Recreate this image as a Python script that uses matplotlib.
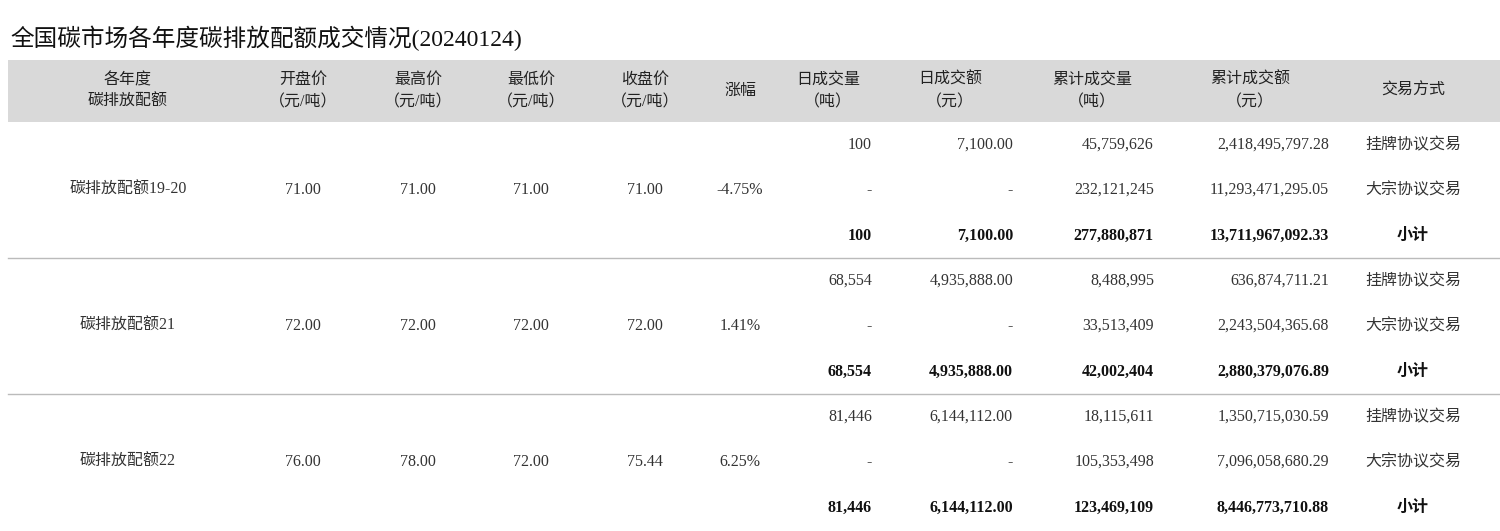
import matplotlib
matplotlib.use("Agg")
import matplotlib.pyplot as plt
from matplotlib.patches import Rectangle

title = "全国碳市场各年度碳排放配额成交情况(20240124)"
headers = ["各年度\n碳排放配额", "开盘价\n（元/吨）", "最高价\n（元/吨）", "最低价\n（元/吨）", "收盘价\n（元/吨）",
           "涨幅", "日成交量\n（吨）", "日成交额\n（元）", "累计成交量\n（吨）", "累计成交额\n（元）", "交易方式"]
products = ["碳排放配额19-20", "碳排放配额21", "碳排放配额22"]
open_p = ["71.00", "72.00", "76.00"]
high_p = ["71.00", "72.00", "78.00"]
low_p = ["71.00", "72.00", "72.00"]
close_p = ["71.00", "72.00", "75.44"]
change = ["-4.75%", "1.41%", "6.25%"]
day_vol = [["100", "-", "100"], ["68,554", "-", "68,554"], ["81,446", "-", "81,446"]]
day_amt = [["7,100.00", "-", "7,100.00"], ["4,935,888.00", "-", "4,935,888.00"], ["6,144,112.00", "-", "6,144,112.00"]]
cum_vol = [["45,759,626", "232,121,245", "277,880,871"], ["8,488,995", "33,513,409", "42,002,404"],
           ["18,115,611", "105,353,498", "123,469,109"]]
cum_amt = [["2,418,495,797.28", "11,293,471,295.05", "13,711,967,092.33"],
           ["636,874,711.21", "2,243,504,365.68", "2,880,379,076.89"],
           ["1,350,715,030.59", "7,096,058,680.29", "8,446,773,710.88"]]
modes = ["挂牌协议交易", "大宗协议交易", "小计"]

FONT = ["Liberation Serif", "Noto Sans CJK SC"]
fig = plt.figure(figsize=(15, 5.31), dpi=100)
ax = fig.add_axes([0, 0, 1, 1])
ax.set_xlim(0, 1500); ax.set_ylim(531, 0); ax.axis("off")

ax.text(10, 38, title, fontsize=17, family=FONT, va="center", ha="left", color="#111")
ax.add_patch(Rectangle((8, 60), 1492, 62, color="#d9d9d9", lw=0))
hx = [128, 303, 418, 531, 645, 740, 828, 950, 1092, 1250, 1413]
for x, h in zip(hx, headers):
    ax.text(x, 91, h, fontsize=11.5, family=FONT, ha="center", va="center", color="#222", linespacing=1.5)

col = "#333"
for g in range(3):
    top = 122 + g * 136
    ys = [top + 23, top + 68, top + 114]
    mid = ys[1]
    if g > 0:
        ax.plot([8, 1500], [top, top], color="#bbbbbb", lw=1)
    ax.text(128, mid, products[g], fontsize=11.5, family=FONT, ha="center", va="center", color=col)
    for x, v in zip([303, 418, 531, 645, 740], [open_p[g], high_p[g], low_p[g], close_p[g], change[g]]):
        ax.text(x, mid, v, fontsize=11.5, family=FONT, ha="center", va="center", color=col)
    for i, y in enumerate(ys):
        w = "bold" if i == 2 else "normal"
        c = "#111" if i == 2 else col
        for x, arr in zip([872, 1013, 1154, 1329], [day_vol, day_amt, cum_vol, cum_amt]):
            ax.text(x, y, arr[g][i], fontsize=11.5, family=FONT, ha="right", va="center", color=c, weight=w)
        ax.text(1413, y, modes[i], fontsize=11.5, family=FONT, ha="center", va="center", color=c, weight=w)

fig.savefig("out.png", dpi=100, facecolor="white")
